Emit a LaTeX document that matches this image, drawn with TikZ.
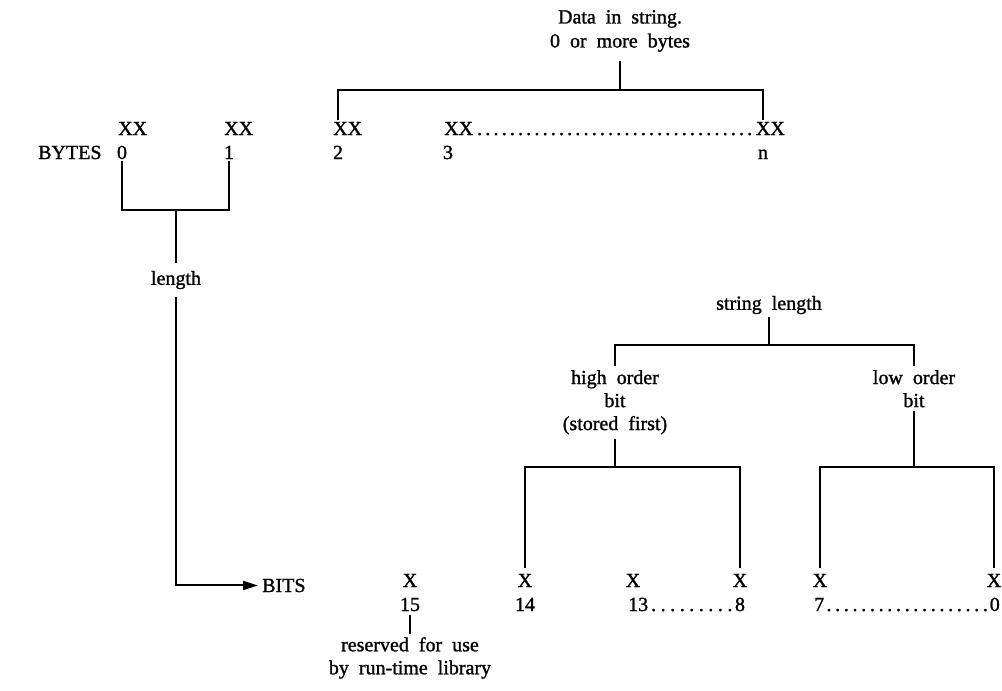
\documentclass[tikz,border=0pt]{standalone}
\usepackage{fontspec}
\setmainfont{Liberation Serif}[FakeBold=1.2]
\usetikzlibrary{arrows.meta,calc}
\newcommand\diafont{\fontsize{20}{23}\selectfont\spaceskip=0.5em plus 0.1em\relax}
\newcommand\diafonttitle{\fontsize{20}{24}\selectfont\spaceskip=0.5em plus 0.1em\relax}
\begin{document}
\begin{tikzpicture}[x=1pt,y=-1pt,
  txt/.style={font=\diafont, inner sep=2pt},
  ln/.style={line width=2pt, line join=miter},
  dotsnode/.style={inner sep=0pt, anchor=base west, font=\diafont}
]
\fill[white] (0,0) rectangle (1002,691);
\useasboundingbox (0,0) rectangle (1002,691);

% ---- top: data in string
\node[txt, align=center, anchor=north, inner sep=9pt, font=\diafonttitle] (title) at (620,1) {Data in string.\\0 or more bytes};

% ---- bytes row
\node[txt, anchor=base west] (xx0) at (116,135) {XX};
\node[txt, anchor=base west] (xx1) at (222,135) {XX};
\node[txt, anchor=base west] (xx2) at (331,135) {XX};
\node[txt, anchor=base west] (xx3) at (442,135) {XX};
\node[txt, anchor=base east] (xxn) at (787,135) {XX};
\path let \p1=(xx3.base east), \p2=(xxn.base west) in
  node[dotsnode] (dd1) at (\p1) {\hbox to \dimexpr\x2-\x1\relax{\xleaders\hbox to 8pt{\hss.\hss}\hfil}};

\node[txt, anchor=base west] (bytes) at (36,159) {BYTES};
\node[txt, anchor=base] (n0) at (122,159) {0};
\node[txt, anchor=base] (n1) at (229,159) {1};
\node[txt, anchor=base] (n2) at (338,159) {2};
\node[txt, anchor=base] (n3) at (448,159) {3};
\node[txt, anchor=base] (nn) at (763,159) {n};

% top bracket
\draw[ln] (title.south) -- (title.south |- 0,90);
\draw[ln] (xx2.north -| n2) -- (n2 |- 0,90) -- (nn |- 0,90) -- (xxn.north -| nn);

% ---- length bracket
\node[txt, inner sep=8pt] (len) at (176,280) {length};
\draw[ln] (n0.south) -- (n0 |- 0,210) -- (n1 |- 0,210) -- (n1.south);
\draw[ln] (len.north |- 0,210) -- (len.north);

% ---- bits row
\node[txt, anchor=base west, inner sep=4pt] (bits) at (258,592) {BITS};
\draw[ln, -{Triangle[length=15pt,width=9pt]}] (len.south) |- (bits.west);

\node[txt, anchor=base, inner sep=6pt] (b15) at (410,587) {X};
\node[txt, anchor=base, inner sep=6pt] (b14) at (525,587) {X};
\node[txt, anchor=base, inner sep=6pt] (b13) at (633,587) {X};
\node[txt, anchor=base, inner sep=6pt] (b8) at (740,587) {X};
\node[txt, anchor=base, inner sep=6pt] (b7) at (820,587) {X};
\node[txt, anchor=base, inner sep=6pt] (b0) at (994,587) {X};

\node[txt, anchor=base, inner sep=4pt] (i15) at (410,611) {15};
\node[txt, anchor=base] (i14) at (525,611) {14};
\node[txt, anchor=base west, inner sep=0pt] (i13) at (628,611) {13};
\node[txt, anchor=base, inner sep=0pt] (i8) at (740,611) {8};
\node[txt, anchor=base west, inner sep=0pt] (i7) at (814,611) {7};
\node[txt, anchor=base east, inner sep=0pt] (i0) at (1000,611) {0};
\path let \p1=(i13.base east), \p2=(i8.base west) in
  node[dotsnode] (dd2) at (\p1) {\hbox to \dimexpr\x2-\x1\relax{\xleaders\hbox to 9pt{\hss.\hss}\hfil}};
\path let \p1=(i7.base east), \p2=(i0.base west) in
  node[dotsnode] (dd3) at (\p1) {\hbox to \dimexpr\x2-\x1\relax{\xleaders\hbox to 8.6pt{\hss.\hss}\hfil}};

\node[txt, align=center, anchor=north, inner sep=3pt] (res) at (410,634) {reserved for use\\by run-time library};
\draw[ln] (i15.south) -- (res.north);

% ---- string length tree
\node[txt, inner sep=3pt] (slen) at (769,305) {string length};
\node[txt, align=center, anchor=north, inner sep=4pt] (hob) at (615,366) {high order\\bit\\(stored first)};
\node[txt, align=center, anchor=north, inner sep=4pt] (lob) at (914,366) {low order\\bit};
\draw[ln] (slen.south) -- (slen.south |- 0,345);
\draw[ln] (hob.north) -- (hob.north |- 0,345) -- (lob.north |- 0,345) -- (lob.north);

\draw[ln] (hob.south) -- (hob.south |- 0,467);
\draw[ln] (b14.north) -- (b14.north |- 0,467) -- (b8.north |- 0,467) -- (b8.north);
\draw[ln] (lob.south) -- (lob.south |- 0,467);
\draw[ln] (b7.north) -- (b7.north |- 0,467) -- (b0.north |- 0,467) -- (b0.north);
\end{tikzpicture}
\end{document}
